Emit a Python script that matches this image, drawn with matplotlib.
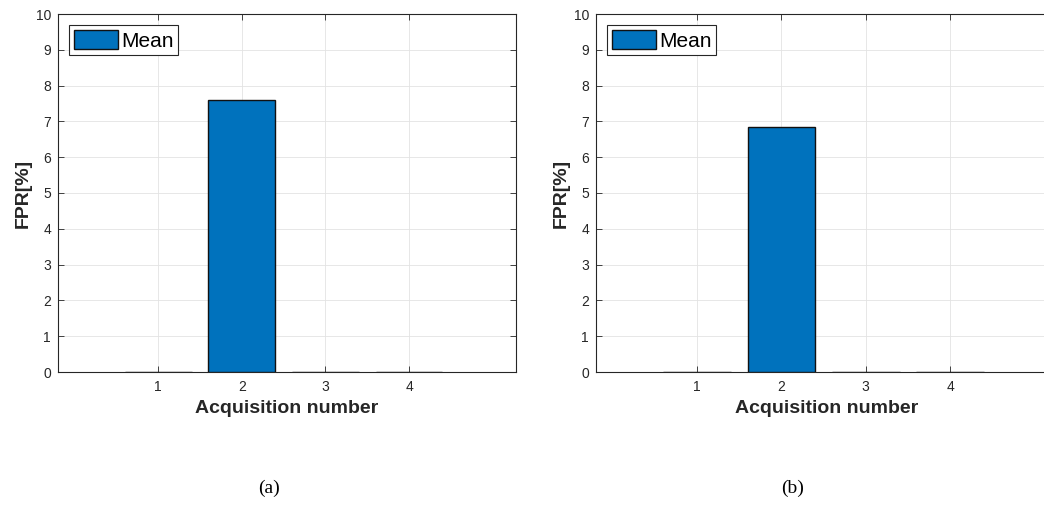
import matplotlib
matplotlib.use("Agg")
import matplotlib.pyplot as plt

# Datos
acquisitions = [1, 2, 3, 4]
fpr_a = [0.0, 7.6, 0.0, 0.0]
fpr_b = [0.0, 6.84, 0.0, 0.0]
panel_labels = ['(a)', '(b)']

BAR_COLOR = '#0072BD'
AX_COLOR = '#262626'

plt.rcParams['font.family'] = ['Liberation Sans', 'DejaVu Sans']


def draw_panel(ax, values):
    ax.bar(acquisitions, values, width=0.8, color=BAR_COLOR,
           edgecolor='#111111', linewidth=1.0, label='Mean', zorder=3)
    ax.set_xlim(-0.2, 5.28)
    ax.set_ylim(0, 10)
    ax.set_xticks(acquisitions)
    ax.set_yticks(range(0, 11))
    ax.grid(True, color='#e3e3e3', linewidth=0.6, zorder=0)
    ax.set_axisbelow(True)
    ax.tick_params(direction='in', length=4, width=0.6, colors=AX_COLOR,
                   labelsize=10, top=True, right=True)
    ax.tick_params(axis='x', pad=6)
    ax.tick_params(axis='y', pad=5)
    for sp in ax.spines.values():
        sp.set_color(AX_COLOR)
        sp.set_linewidth(0.8)
    ax.set_xlabel('Acquisition number', fontsize=14, fontweight='bold',
                  color=AX_COLOR, labelpad=4)
    ax.set_ylabel('FPR[%]', fontsize=14, fontweight='bold',
                  color=AX_COLOR, labelpad=3)
    leg = ax.legend(loc='upper left', fontsize=15, fancybox=False,
                    borderaxespad=0.55, borderpad=0.22, handlelength=2.1,
                    handleheight=1.0, handletextpad=0.15, framealpha=1)
    leg.get_frame().set_edgecolor(AX_COLOR)
    leg.get_frame().set_linewidth(0.8)


fig = plt.figure(figsize=(10.44, 5.18), dpi=100)
W, H = 1044, 518
ax1 = fig.add_axes([58 / W, (H - 372) / H, (516 - 58) / W, (372 - 14) / H])
ax2 = fig.add_axes([596 / W, (H - 372) / H, 462 / W, (372 - 14) / H])

draw_panel(ax1, fpr_a)
draw_panel(ax2, fpr_b)

fig.text(269 / W, 1 - 488 / H, panel_labels[0], ha='center', va='center',
         fontsize=14, family='Liberation Serif', color='black')
fig.text(793 / W, 1 - 488 / H, panel_labels[1], ha='center', va='center',
         fontsize=14, family='Liberation Serif', color='black')

fig.savefig('out.png', dpi=100)
